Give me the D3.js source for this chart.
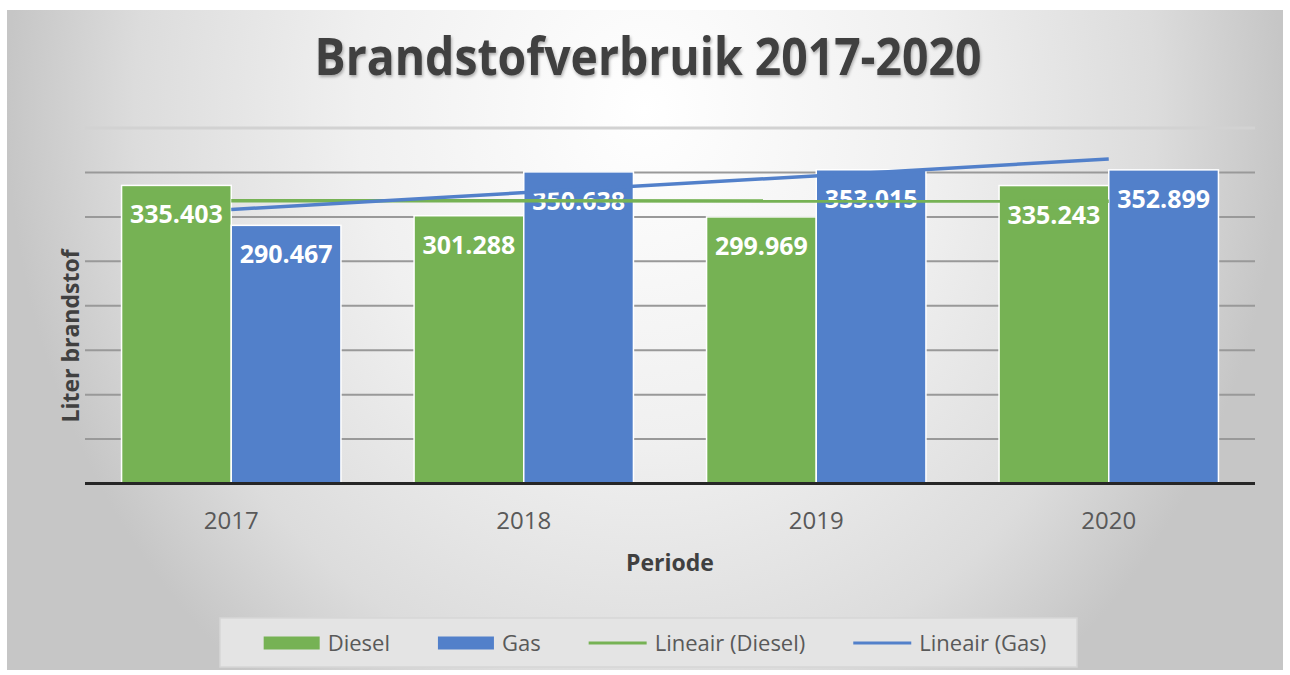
<!DOCTYPE html>
<html>
<head>
<meta charset="utf-8">
<script src="https://cdn.jsdelivr.net/npm/d3@7"></script>
<style>
  body { margin: 0; background: #ffffff; }
  svg { display: block; font-family: 'Open Sans', sans-serif; }
</style>
</head>
<body>
<svg id="chart"></svg>
<script>
// data (liters)
const years = ['2017', '2018', '2019', '2020']
const diesel = [335403, 301288, 299969, 335243]
const gas = [290467, 350638, 353015, 352899]
const seriesNames = ['Diesel', 'Gas']
const yTicks = [0, 50000, 100000, 150000, 200000, 250000, 300000, 350000, 400000]
const legendNames = ['Diesel', 'Gas', 'Lineair (Diesel)', 'Lineair (Gas)']

let width = 1290, height = 675
let colors = { Diesel: '#76b254', Gas: '#5280ca' }
let nl = d3.formatLocale({ decimal: ',', thousands: '.', grouping: [3], currency: ['€', ''] })
let fmt = nl.format(',d')

let svg = d3.select('#chart')
    .attr('width', width)
    .attr('height', height)
    .attr('viewBox', `0 0 ${width} ${height}`)

let defs = svg.append('defs')
let grad = defs.append('radialGradient')
    .attr('id', 'bgGrad')
    .attr('cx', 0.5).attr('cy', 0.15).attr('r', 0.5)
    .attr('gradientTransform', 'translate(0.5,0.15) scale(1,2.2) translate(-0.5,-0.15)')
grad.append('stop').attr('offset', 0).attr('stop-color', '#ffffff')
grad.append('stop').attr('offset', 0.45).attr('stop-color', '#f0f0f0')
grad.append('stop').attr('offset', 0.8).attr('stop-color', '#dcdcdc')
grad.append('stop').attr('offset', 1).attr('stop-color', '#c6c6c6')

let shadow = defs.append('filter').attr('id', 'titleShadow')
    .attr('x', -0.05).attr('y', -0.2).attr('width', 1.1).attr('height', 1.5)
shadow.append('feDropShadow')
    .attr('dx', 1).attr('dy', 2).attr('stdDeviation', 1.5)
    .attr('flood-color', '#000').attr('flood-opacity', 0.3)

// panel
svg.append('rect')
    .attr('x', 7).attr('y', 10)
    .attr('width', 1276).attr('height', 660)
    .attr('fill', 'url(#bgGrad)')

let plot = { left: 85, right: 1255, top: 128, bottom: 483.5 }

let x0 = d3.scaleBand()
    .domain(years)
    .range([plot.left, plot.right])
    .paddingInner(0.25)
    .paddingOuter(0.125)

let x1 = d3.scaleBand()
    .domain(seriesNames)
    .range([0, x0.bandwidth()])

let y = d3.scaleLinear()
    .domain([0, 400000])
    .range([plot.bottom, plot.top])

// gridlines
let gridG = svg.append('g').attr('id', 'gridG')
gridG.selectAll('line')
    .data(yTicks.slice(1))
    .enter().append('line')
    .attr('x1', plot.left)
    .attr('x2', plot.right)
    .attr('y1', d => y(d))
    .attr('y2', d => y(d))
    .attr('stroke', d => d === 400000 ? '#d2d2d2' : '#999999')
    .attr('stroke-width', d => d === 400000 ? 3 : 2)

// bars
let rows = years.map((yr, i) => ({ year: yr, Diesel: diesel[i], Gas: gas[i] }))

let barG = svg.append('g').attr('id', 'barG')
let groups = barG.selectAll('.yearG')
    .data(rows)
    .enter().append('g')
    .attr('class', 'yearG')
    .attr('transform', d => `translate(${x0(d.year)},0)`)

groups.selectAll('rect')
    .data(d => seriesNames.map(k => ({ key: k, value: d[k] })))
    .enter().append('rect')
    .attr('x', d => x1(d.key))
    .attr('width', x1.bandwidth())
    .attr('y', d => y(d.value))
    .attr('height', d => y(0) - y(d.value))
    .attr('fill', d => colors[d.key])
    .attr('stroke', '#ffffff')
    .attr('stroke-width', 1.5)

// axis baseline
svg.append('line')
    .attr('x1', plot.left).attr('x2', plot.right)
    .attr('y1', y(0)).attr('y2', y(0))
    .attr('stroke', '#262626')
    .attr('stroke-width', 3)

// linear trend lines (least squares over 1..n, as the spreadsheet does)
function trend(vals) {
    let n = vals.length
    let xs = vals.map((v, i) => i + 1)
    let mx = d3.mean(xs), my = d3.mean(vals)
    let slope = d3.sum(xs, (xv, i) => (xv - mx) * (vals[i] - my)) / d3.sum(xs, xv => (xv - mx) ** 2)
    return [0, n - 1].map(i => ({ year: years[i], value: my + slope * (i + 1 - mx) }))
}

let trendLine = d3.line()
    .x(d => x0(d.year) + x0.bandwidth() / 2)
    .y(d => y(d.value))

let trendG = svg.append('g').attr('id', 'trendG')
trendG.append('path')
    .attr('d', trendLine(trend(diesel)))
    .attr('fill', 'none')
    .attr('stroke', colors.Diesel)
    .attr('stroke-width', 3.5)
trendG.append('path')
    .attr('d', trendLine(trend(gas)))
    .attr('fill', 'none')
    .attr('stroke', colors.Gas)
    .attr('stroke-width', 3.5)

// data labels
groups.selectAll('.valLabel')
    .data(d => seriesNames.map(k => ({ key: k, value: d[k] })))
    .enter().append('text')
    .attr('class', 'valLabel')
    .attr('x', d => x1(d.key) + x1.bandwidth() / 2)
    .attr('y', d => y(d.value) + 38)
    .attr('text-anchor', 'middle')
    .attr('fill', '#ffffff')
    .style('font-size', '25px')
    .style('font-weight', 700)
    .text(d => fmt(d.value))

// x tick labels
svg.append('g').selectAll('text')
    .data(years)
    .enter().append('text')
    .attr('x', d => x0(d) + x0.bandwidth() / 2)
    .attr('y', 529)
    .attr('text-anchor', 'middle')
    .attr('fill', '#595959')
    .style('font-size', '24px')
    .text(d => d)

// axis titles
svg.append('text')
    .attr('x', (plot.left + plot.right) / 2)
    .attr('y', 571)
    .attr('text-anchor', 'middle')
    .attr('fill', '#404040')
    .style('font-size', '23px')
    .style('font-weight', 700)
    .text('Periode')

svg.append('text')
    .attr('transform', 'translate(79,336) rotate(-90)')
    .attr('text-anchor', 'middle')
    .attr('fill', '#404040')
    .style('font-size', '23px')
    .style('font-weight', 700)
    .text('Liter brandstof')

// title
svg.append('text')
    .attr('x', 648)
    .attr('y', 75)
    .attr('text-anchor', 'middle')
    .attr('fill', '#404040')
    .attr('filter', 'url(#titleShadow)')
    .attr('textLength', 667)
    .attr('lengthAdjust', 'spacingAndGlyphs')
    .style('font-size', '52px')
    .style('font-weight', 700)
    .text('Brandstofverbruik 2017-2020')

// legend
let legendG = svg.append('g').attr('id', 'legendG')
legendG.append('rect')
    .attr('x', 220).attr('y', 618)
    .attr('width', 857).attr('height', 49)
    .attr('fill', '#e4e4e4')
    .attr('stroke', '#d6d6d6')
    .attr('stroke-width', 1.5)

let items = legendG.selectAll('.legItem')
    .data(legendNames)
    .enter().append('g')
    .attr('class', 'legItem')

items.each(function(d, i) {
    let g = d3.select(this)
    let c = i % 2 === 0 ? colors.Diesel : colors.Gas
    if (i < 2) {
        g.append('rect')
            .attr('x', 0).attr('y', -6.5)
            .attr('width', 56).attr('height', 13)
            .attr('fill', c)
    } else {
        g.append('line')
            .attr('x1', 0).attr('x2', 58)
            .attr('y1', 0).attr('y2', 0)
            .attr('stroke', c)
            .attr('stroke-width', 3)
    }
    g.append('text')
        .attr('x', i < 2 ? 64 : 66)
        .attr('y', 8)
        .attr('fill', '#595959')
        .style('font-size', '22px')
        .text(d)
})

// flow the legend items left to right, centred in the box
let gap = 48
let cursor = 0
let offsets = []
items.each(function() {
    offsets.push(cursor)
    cursor += this.getBBox().width + gap
})
let total = cursor - gap
let startX = 655 - total / 2
items.attr('transform', (d, i) => `translate(${startX + offsets[i]},643)`)
</script>
</body>
</html>
